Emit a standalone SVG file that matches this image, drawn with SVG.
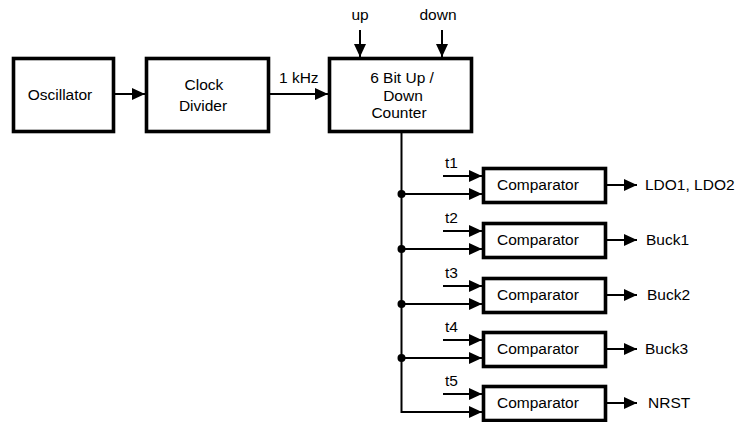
<svg xmlns="http://www.w3.org/2000/svg" width="737" height="422" viewBox="0 0 737 422">
<style>
.box{fill:#fff;stroke:#000;stroke-width:3.6}
.ln{fill:none;stroke:#000;stroke-width:2}
.t{font-family:"Liberation Sans",Arial,sans-serif;font-size:15.5px;fill:#000}
.m{text-anchor:middle}
</style>
<defs>
<marker id="ah" markerUnits="userSpaceOnUse" markerWidth="14" markerHeight="14" viewBox="0 0 14 14" refX="14" refY="7" orient="auto">
<path d="M1,1 L14,7 L1,13 Z" fill="#000"/>
</marker>
</defs>
<rect width="737" height="422" fill="#fff"/>
<g id="connectors">
<line class="ln" x1="115" y1="94" x2="145" y2="94" marker-end="url(#ah)"/>
<line class="ln" x1="270" y1="94" x2="328" y2="94" marker-end="url(#ah)"/>
<line class="ln" x1="360" y1="30" x2="360" y2="57" marker-end="url(#ah)"/>
<line class="ln" x1="442" y1="30" x2="442" y2="57" marker-end="url(#ah)"/>
<path class="ln" d="M401.5,133 V412 H482" marker-end="url(#ah)"/>
<line class="ln" x1="401.5" y1="194" x2="482" y2="194" marker-end="url(#ah)"/>
<line class="ln" x1="401.5" y1="249" x2="482" y2="249" marker-end="url(#ah)"/>
<line class="ln" x1="401.5" y1="304" x2="482" y2="304" marker-end="url(#ah)"/>
<line class="ln" x1="401.5" y1="358" x2="482" y2="358" marker-end="url(#ah)"/>
<circle cx="401.5" cy="194" r="4"/>
<circle cx="401.5" cy="249" r="4"/>
<circle cx="401.5" cy="304" r="4"/>
<circle cx="401.5" cy="358" r="4"/>
<line class="ln" x1="443" y1="176" x2="482" y2="176" marker-end="url(#ah)"/>
<line class="ln" x1="443" y1="231" x2="482" y2="231" marker-end="url(#ah)"/>
<line class="ln" x1="443" y1="286" x2="482" y2="286" marker-end="url(#ah)"/>
<line class="ln" x1="443" y1="340" x2="482" y2="340" marker-end="url(#ah)"/>
<line class="ln" x1="443" y1="394" x2="482" y2="394" marker-end="url(#ah)"/>
<line class="ln" x1="607" y1="185" x2="637" y2="185" marker-end="url(#ah)"/>
<line class="ln" x1="607" y1="240" x2="637" y2="240" marker-end="url(#ah)"/>
<line class="ln" x1="607" y1="295" x2="637" y2="295" marker-end="url(#ah)"/>
<line class="ln" x1="607" y1="349" x2="637" y2="349" marker-end="url(#ah)"/>
<line class="ln" x1="607" y1="403" x2="637" y2="403" marker-end="url(#ah)"/>
<text class="t" x="279" y="83">1 kHz</text>
<text class="t m" x="360" y="20">up</text>
<text class="t m" x="438" y="20">down</text>
<text class="t" x="445" y="168">t1</text>
<text class="t" x="445" y="223">t2</text>
<text class="t" x="445" y="278">t3</text>
<text class="t" x="445" y="332">t4</text>
<text class="t" x="445" y="386">t5</text>
<text class="t" x="645" y="190">LDO1, LDO2</text>
<text class="t" x="646" y="245">Buck1</text>
<text class="t" x="647" y="300">Buck2</text>
<text class="t" x="645" y="354">Buck3</text>
<text class="t" x="648" y="408">NRST</text>
</g>
<g id="oscillator">
<rect class="box" x="13.5" y="58.5" width="100" height="73"/>
<text class="t m" x="60" y="100">Oscillator</text>
</g>
<g id="clock-divider">
<rect class="box" x="146.5" y="58.5" width="122" height="73"/>
<text class="t m" x="204" y="90">Clock</text>
<text class="t m" x="203" y="111">Divider</text>
</g>
<g id="counter">
<rect class="box" x="329.5" y="58.5" width="142" height="73"/>
<text class="t m" x="402" y="83">6 Bit Up /</text>
<text class="t m" x="403" y="100.5">Down</text>
<text class="t m" x="399" y="118">Counter</text>
</g>
<g id="comp1">
<rect class="box" x="483.5" y="168.5" width="122" height="34"/>
<text class="t" x="497" y="190">Comparator</text>
</g>
<g id="comp2">
<rect class="box" x="483.5" y="223.5" width="122" height="34"/>
<text class="t" x="497" y="245">Comparator</text>
</g>
<g id="comp3">
<rect class="box" x="483.5" y="278.5" width="122" height="34"/>
<text class="t" x="497" y="300">Comparator</text>
</g>
<g id="comp4">
<rect class="box" x="483.5" y="332.5" width="122" height="34"/>
<text class="t" x="497" y="354">Comparator</text>
</g>
<g id="comp5">
<rect class="box" x="483.5" y="386.5" width="122" height="34"/>
<text class="t" x="497" y="408">Comparator</text>
</g>
</svg>
